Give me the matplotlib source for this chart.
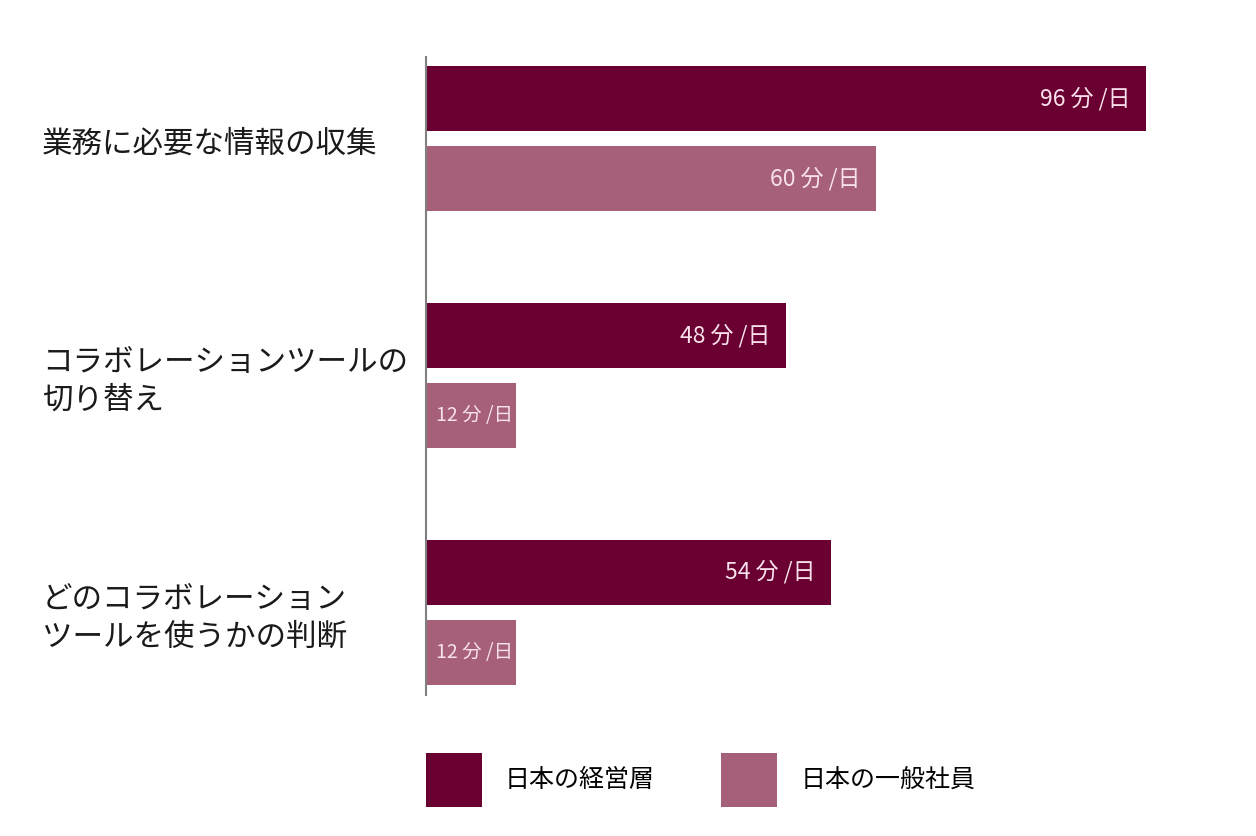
import matplotlib.pyplot as plt
from matplotlib.patches import Patch
from matplotlib.transforms import blended_transform_factory, ScaledTranslation

plt.rcParams['font.family'] = ['Noto Sans CJK JP', 'DejaVu Sans']

categories = ['業務に必要な情報の収集',
              'コラボレーションツールの\n切り替え',
              'どのコラボレーション\nツールを使うかの判断']
series_names = ['日本の経営層', '日本の一般社員']
executives = [96, 48, 54]
employees = [60, 12, 12]
unit = '分 /日'

dark = '#6A0032'
light = '#A6607A'
label_color = '#F8E1EA'

fig = plt.figure(figsize=(12.56, 8.36), dpi=100)
W, H = 1256, 836
ax = fig.add_axes([426 / W, 1 - 695 / H, 825 / W, 638 / H])

offset = 0.169
height = 0.274
ys = list(range(len(categories)))
ax.barh([y - offset for y in ys], executives, height=height, color=dark)
ax.barh([y + offset for y in ys], employees, height=height, color=light)

ax.set_xlim(0, 110)
ax.set_ylim(2.35, -0.345)

for spine in ['top', 'right', 'bottom']:
    ax.spines[spine].set_visible(False)
ax.spines['left'].set_color('#808080')
ax.spines['left'].set_linewidth(1.5)
ax.set_xticks([])
ax.set_yticks([])

def value_label(y, v):
    if v < 20:
        ax.annotate(f'{v} {unit}', (0, y), xytext=(7, 0), textcoords='offset points',
                    ha='left', va='center', color=label_color, fontsize=14)
    else:
        ax.annotate(f'{v} {unit}', (v, y), xytext=(-11, 0), textcoords='offset points',
                    ha='right', va='center', color=label_color, fontsize=16.5)

for y, v in zip(ys, executives):
    value_label(y - offset, v)
for y, v in zip(ys, employees):
    value_label(y + offset, v)

# category labels sit left-aligned near the figure edge, a touch below group centre
trans = blended_transform_factory(fig.transFigure, ax.transData) + \
    ScaledTranslation(0, -6 / 100, fig.dpi_scale_trans)
for y, cat in zip(ys, categories):
    ax.text(42 / W, y, cat, transform=trans, ha='left', va='center',
            fontsize=22, color='#1a1a1a', linespacing=1.3)

handles = [Patch(facecolor=dark), Patch(facecolor=light)]
fig.legend(handles, series_names, loc='center left',
           bbox_to_anchor=(426 / W, 1 - 780 / H), ncol=2, frameon=False,
           fontsize=18, handlelength=2.24, handleheight=3.0,
           handletextpad=0.92, columnspacing=2.65, borderpad=0, borderaxespad=0)

fig.savefig('out.png', dpi=100)
